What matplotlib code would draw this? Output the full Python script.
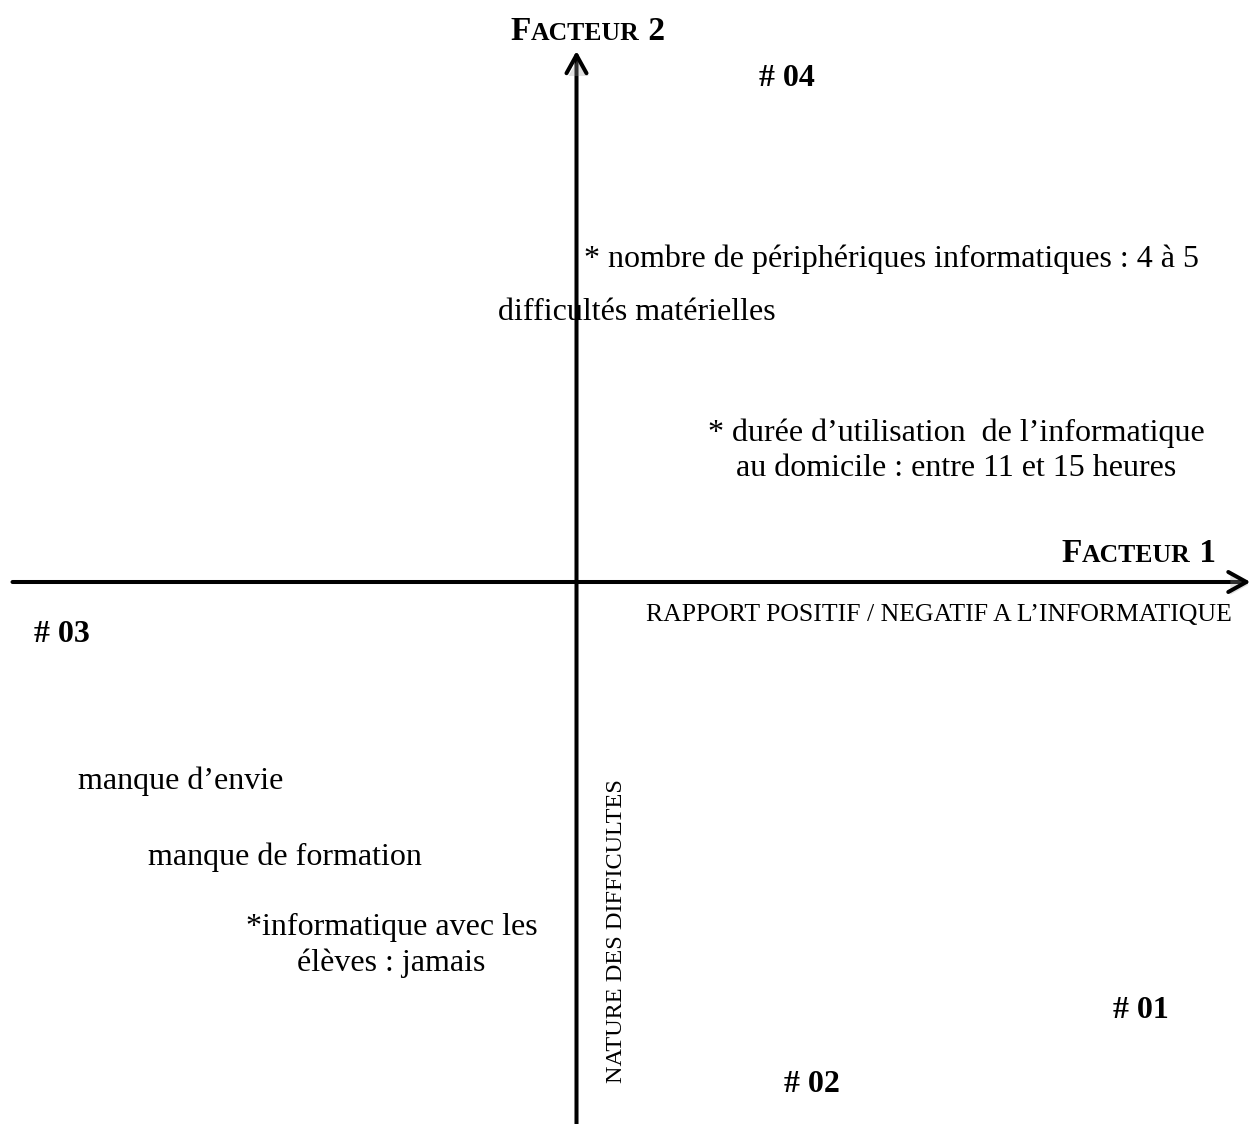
import matplotlib
matplotlib.use("Agg")
import matplotlib.pyplot as plt
import matplotlib.patheffects as pe
from matplotlib.offsetbox import TextArea, HPacker, AnnotationBbox

plt.rcParams["font.family"] = ["Liberation Serif", "DejaVu Serif"]

# factor-plane coordinates (factor 1, factor 2) of the modalities
MOD_LABELS = [
    "* nombre de périphériques informatiques : 4 à 5",
    "difficultés matérielles",
    "* durée d’utilisation  de l’informatique\nau domicile : entre 11 et 15 heures",
    "manque d’envie",
    "manque de formation",
    "*informatique avec les\nélèves : jamais",
]
MOD_X = [0.07, -0.78, 3.80, -4.98, -4.29, -1.85]
MOD_Y = [3.23, 2.70, 1.315, -1.99, -2.75, -3.635]
MOD_HA = ["left", "left", "center", "left", "left", "center"]

CLASS_LABELS = ["# 01", "# 02", "# 03", "# 04"]
CLASS_X = [5.64, 2.35, -5.15, 2.10]
CLASS_Y = [-4.29, -5.03, -0.52, 5.03]

AXIS1_NAME = "RAPPORT POSITIF / NEGATIF A L’INFORMATIQUE"
AXIS2_NAME = "NATURE DES DIFFICULTES"

W, H = 1253, 1124
fig = plt.figure(figsize=(W / 100, H / 100), dpi=100)
ax = fig.add_axes([0, 0, 1, 1])
ax.set_xlim(-5.765, 6.765)
ax.set_ylim(-5.42, 5.82)
ax.axis("off")

shadow = [pe.withSimplePatchShadow(offset=(1.5, -2.0), shadow_rgbFace="#999999", alpha=0.3)]
arrow = dict(arrowstyle="->,head_length=1.3,head_width=0.72", lw=2.9, color="black",
             shrinkA=0, shrinkB=0, path_effects=shadow)
ax.annotate("", xy=(6.74, 0), xytext=(-5.64, 0), arrowprops=arrow)
ax.annotate("", xy=(0, 5.31), xytext=(0, -5.42), arrowprops=arrow)

fs = 23
for txt, x, y, ha in zip(MOD_LABELS, MOD_X, MOD_Y, MOD_HA):
    ax.text(x, y, txt, ha=ha, va="center", fontsize=fs, linespacing=1.25, zorder=1)

for txt, x, y in zip(CLASS_LABELS, CLASS_X, CLASS_Y):
    ax.text(x, y, txt, ha="center", va="center", fontsize=fs, fontweight="bold")

ax.text(3.625, -0.33, AXIS1_NAME, ha="center", va="center", fontsize=18.5)
ax.text(0.40, -3.49, AXIS2_NAME, ha="center", va="center", fontsize=17.5, rotation=90)


def small_caps_title(xy, num):
    big = dict(fontsize=24, fontweight="bold", family="Liberation Serif")
    small = dict(fontsize=18.5, fontweight="bold", family="Liberation Serif")
    box = HPacker(children=[TextArea("F", textprops=big),
                            TextArea("ACTEUR", textprops=small),
                            TextArea(" " + num, textprops=big)],
                  align="baseline", pad=0, sep=0)
    ab = AnnotationBbox(box, xy, frameon=False, box_alignment=(0.5, 0.5))
    ax.add_artist(ab)


small_caps_title((0.11, 5.51), "2")
small_caps_title((5.62, 0.29), "1")

fig.savefig("out.png", dpi=100)
